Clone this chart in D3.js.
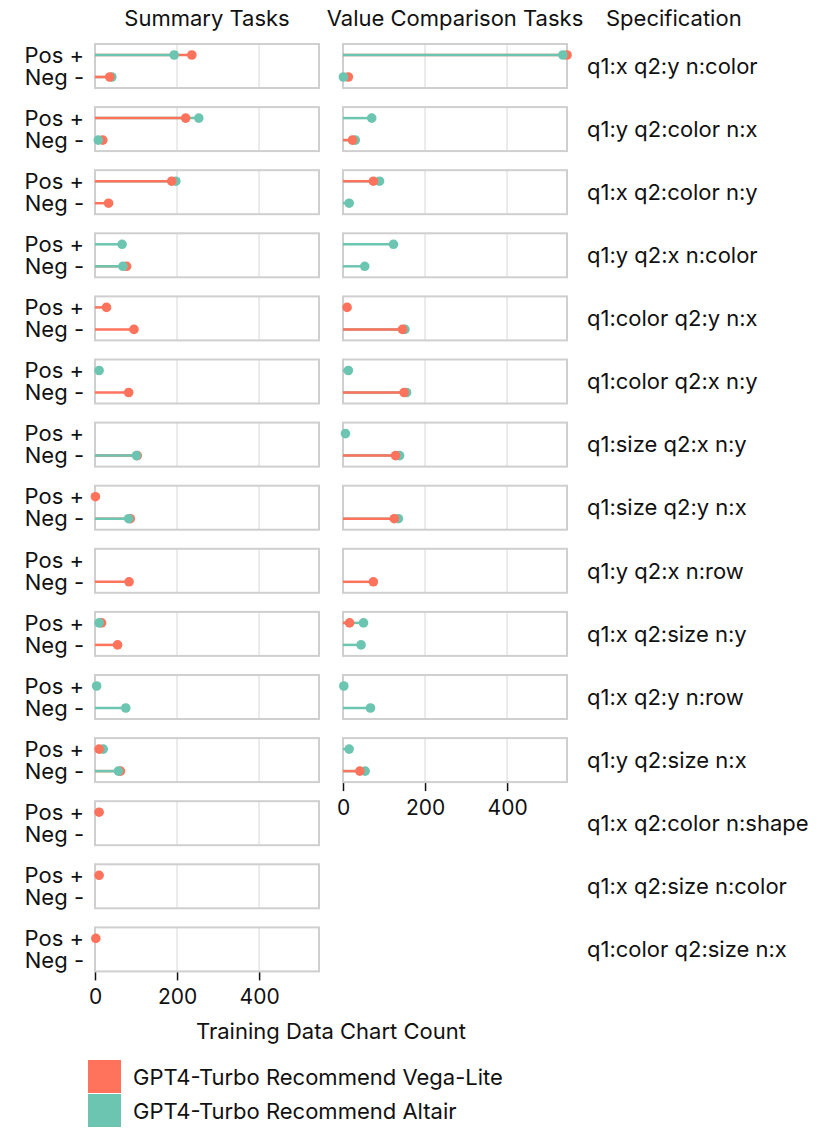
<!DOCTYPE html>
<html><head><meta charset="utf-8">
<script src="https://cdn.jsdelivr.net/npm/d3@7"></script>
<style>body{margin:0;background:#fff}svg{display:block}text{font-family:Inter,"Noto Sans",sans-serif;fill:#111}</style>
</head><body>
<script>
const specs = ["q1:x q2:y n:color","q1:y q2:color n:x","q1:x q2:color n:y","q1:y q2:x n:color","q1:color q2:y n:x","q1:color q2:x n:y","q1:size q2:x n:y","q1:size q2:y n:x","q1:y q2:x n:row","q1:x q2:size n:y","q1:x q2:y n:row","q1:y q2:size n:x","q1:x q2:color n:shape","q1:x q2:size n:color","q1:color q2:size n:x"];
const polarity = ["Pos +","Neg -"];
const series = ["GPT4-Turbo Recommend Vega-Lite","GPT4-Turbo Recommend Altair"];
const colors = ["#ff725c","#6cc5b0"];
const panels = ["Summary Tasks","Value Comparison Tasks"];
const xTicks = [0,200,400];
// Summary Tasks
const sumVLPos  = [236,221,187,null,28,null,null,1,null,16,null,10,10,10,2];
const sumVLNeg  = [36,19,33,77,95,82,103,86,83,55,null,62,null,null,null];
const sumAltPos = [193,253,197,66,null,10,null,null,null,10,4,20,null,null,null];
const sumAltNeg = [41,8,null,68,null,null,101,82,null,null,75,57,null,null,null];
// Value Comparison Tasks (first 12 specifications)
const vcVLPos  = [546,null,74,null,10,null,null,null,null,16,null,null];
const vcVLNeg  = [13,23,null,null,145,149,128,125,74,null,null,41];
const vcAltPos = [536,70,89,123,null,13,6,null,null,50,2,15];
const vcAltNeg = [1,30,15,53,151,155,138,135,null,44,67,54];

function build(vp,vn,ap,an){
  return vp.map((_,i)=>[
    {row:i,pol:polarity[0],s:0,v:vp[i]},{row:i,pol:polarity[1],s:0,v:vn[i]},
    {row:i,pol:polarity[0],s:1,v:ap[i]},{row:i,pol:polarity[1],s:1,v:an[i]}
  ]).flat().filter(d=>d.v!=null);
}
const panelData = [build(sumVLPos,sumVLNeg,sumAltPos,sumAltNeg), build(vcVLPos,vcVLNeg,vcAltPos,vcAltNeg)];
const nRows = [specs.length, vcVLPos.length];

const W=830,H=1137;
const svg=d3.select("body").append("svg").attr("width",W).attr("height",H);
const top0=44, step=63.1, ph=44;
const colX=[[95,319],[343,567]];
const maxV=d3.max(panelData.flat(),d=>d.v);
const y=d3.scalePoint().domain(polarity).range([0,ph]).padding(0.5);
const color=d3.scaleOrdinal().domain([0,1]).range(colors);
const FS=22;

panelData.forEach((data,p)=>{
  const x=d3.scaleLinear().domain([0,maxV]).range(colX[p]);
  const g=svg.append("g");
  for(let r=0;r<nRows[p];r++){
    const ty=top0+r*step;
    const pg=g.append("g").attr("transform",`translate(0,${ty})`);
    pg.selectAll("line.grid").data(xTicks.slice(1)).join("line")
      .attr("x1",d=>x(d)).attr("x2",d=>x(d)).attr("y1",0).attr("y2",ph)
      .attr("stroke","#e4e4e4").attr("stroke-width",1.5);
    pg.append("rect").attr("x",colX[p][0]).attr("y",0).attr("width",colX[p][1]-colX[p][0]).attr("height",ph)
      .attr("fill","none").attr("stroke","#cfcfcf").attr("stroke-width",2);
    const rd=data.filter(d=>d.row===r).sort((a,b)=>b.v-a.v);
    pg.selectAll("line.stem").data(rd).join("line")
      .attr("x1",x(0)).attr("x2",d=>x(d.v)).attr("y1",d=>y(d.pol)).attr("y2",d=>y(d.pol))
      .attr("stroke",d=>color(d.s)).attr("stroke-width",2.5);
    pg.selectAll("circle").data(rd).join("circle")
      .attr("cx",d=>x(d.v)).attr("cy",d=>y(d.pol)).attr("r",4.8).attr("fill",d=>color(d.s));
  }
  const axY=top0+(nRows[p]-1)*step+ph+1;
  const ax=svg.append("g").attr("transform",`translate(0,${axY})`)
    .call(d3.axisBottom(x).tickValues(xTicks).tickSize(8).tickPadding(9));
  ax.select(".domain").remove();
  ax.selectAll(".tick line").attr("stroke","#111").attr("stroke-width",1.5);
  ax.selectAll(".tick text").attr("font-size",FS-1).attr("font-family","Inter,'Noto Sans',sans-serif").attr("fill","#111");
  svg.append("text").attr("x",(colX[p][0]+colX[p][1])/2).attr("y",26).attr("text-anchor","middle")
    .attr("font-size",FS).text(panels[p]);
});
// row labels
for(let r=0;r<specs.length;r++){
  const ty=top0+r*step;
  polarity.forEach(pl=>{
    svg.append("text").attr("x",84).attr("y",ty+y(pl)).attr("dy","0.35em").attr("text-anchor","end")
      .attr("font-size",FS).text(pl);
  });
  svg.append("text").attr("x",587).attr("y",ty+ph/2).attr("dy","0.35em").attr("font-size",FS).text(specs[r]);
}
svg.append("text").attr("x",606).attr("y",26).attr("font-size",FS).text("Specification");
svg.append("text").attr("x",331).attr("y",1039).attr("text-anchor","middle").attr("font-size",FS).text("Training Data Chart Count");
// legend
const lg=svg.append("g").attr("transform","translate(88,1060)");
series.forEach((s,i)=>{
  lg.append("rect").attr("x",0).attr("y",i*34).attr("width",33).attr("height",33).attr("fill",colors[i]);
  lg.append("text").attr("x",45).attr("y",i*34+17).attr("dy","0.35em").attr("font-size",FS).text(s);
});
</script>
</body></html>
